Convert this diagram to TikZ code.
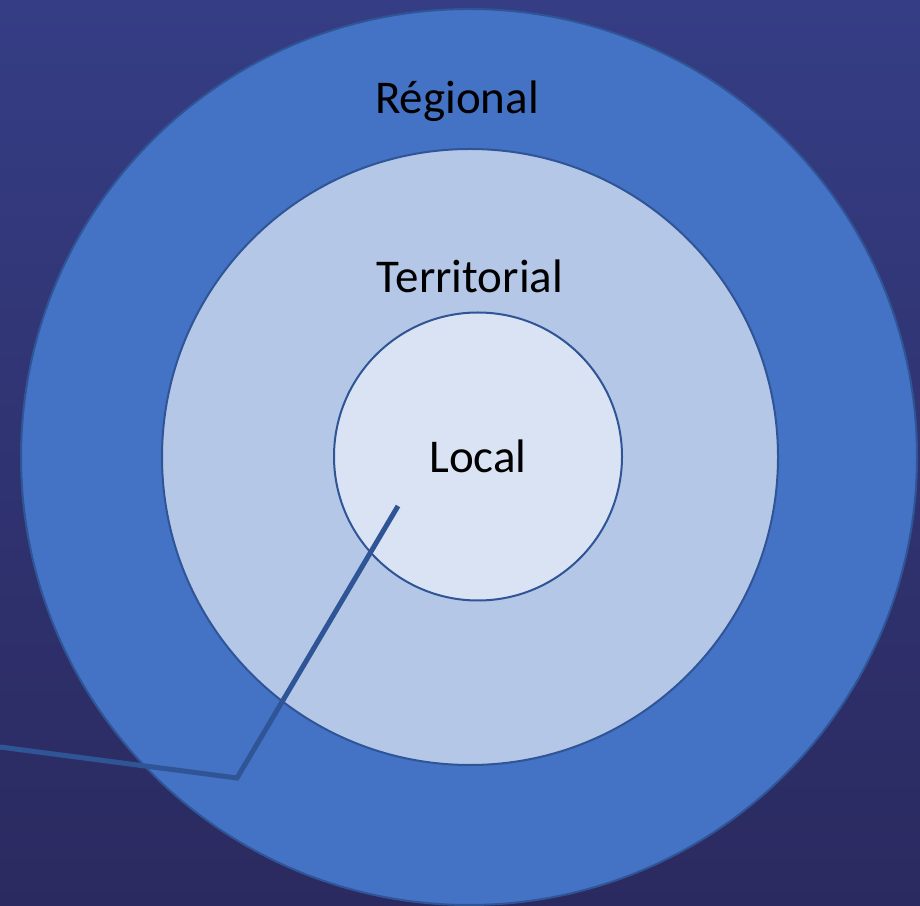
\documentclass[tikz,border=0pt]{standalone}
\usepackage{fontspec}
\setmainfont{Carlito}
\definecolor{bgtop}{HTML}{353D84}
\definecolor{bgbottom}{HTML}{2B2A60}
\definecolor{ringline}{HTML}{2F5597}
\definecolor{regionalfill}{HTML}{4472C4}
\definecolor{territorialfill}{HTML}{B4C7E7}
\definecolor{localfill}{HTML}{DAE3F3}
\tikzset{
    ring/.style={circle, draw=ringline, line width=2pt, inner sep=0pt},
    levellabel/.style={anchor=base, font=\fontsize{47}{56}\selectfont, text=black},
    callout/.style={draw=ringline, line width=5pt}
}
\begin{document}
\begin{tikzpicture}[x=1pt, y=1pt]
        \useasboundingbox (0, 0) rectangle (920, 905);
        \shade [top color=bgtop, bottom color=bgbottom] (0, 0) rectangle (920, 905);
        % nested circles
        \node [ring, fill=regionalfill, minimum size=896pt] (regional) at (469, 448) {};
        \node [ring, fill=territorialfill, minimum size=616pt] (territorial) at (470, 448) {};
        \node [ring, fill=localfill, minimum size=288pt] (local) at (478, 448.5) {};
        % labels
        \node [levellabel] (regionaltext) at (457, 791) {Régional};
        \node [levellabel] (territorialtext) at (470, 612) {Territorial};
        \node [levellabel] (localtext) at (478, 432) {Local};
        % callout line
        \coordinate (calloutstart) at (0, 158);
        \coordinate (calloutbend) at (237, 127);
        \coordinate (callouttip) at (398, 399);
        \draw [callout] (calloutstart) -- (calloutbend) -- (callouttip);
    \end{tikzpicture}
\end{document}
